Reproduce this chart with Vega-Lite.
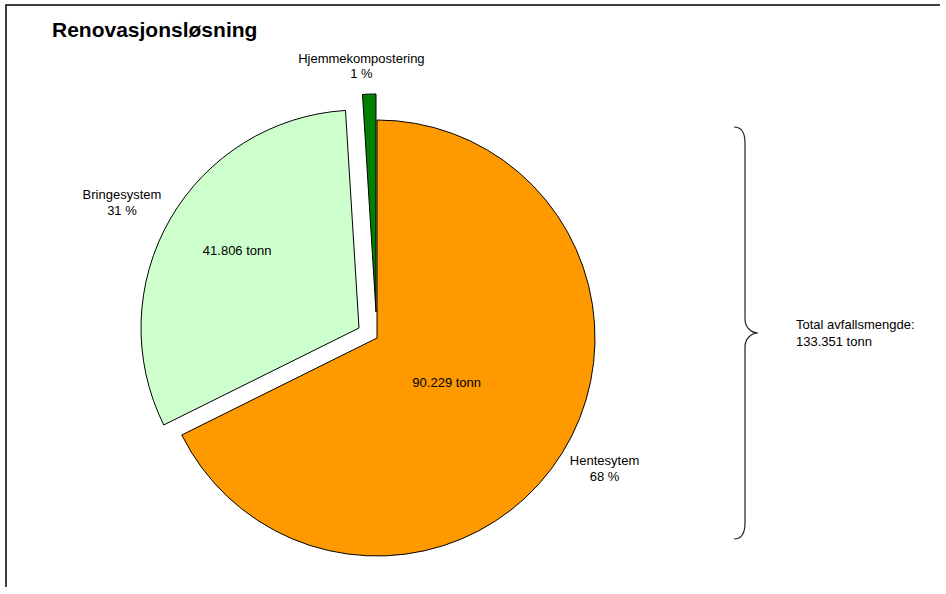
{
  "$schema": "https://vega.github.io/schema/vega-lite/v6.json",
  "autosize": "none",
  "padding": {"left": 6, "top": 5, "right": 0, "bottom": 0},
  "width": 938,
  "height": 582,
  "background": "white",
  "view": {"stroke": "#000", "strokeWidth": 1.5, "strokeDash": [934, 1524, 582, 10], "fill": "white"},
  "title": {
    "text": "Renovasjonsløsning",
    "anchor": "start",
    "frame": "group",
    "orient": "top",
    "offset": -36,
    "dx": 46,
    "font": "Liberation Sans",
    "fontSize": 21,
    "fontWeight": "bold",
    "color": "#000"
  },
  "data": {
    "values": [
      {"kategori": "Hentesystem", "tonn": 90229, "orden": 1, "etikett": "Hentesytem\n68 %", "mengde": "90.229 tonn"},
      {"kategori": "Bringesystem", "tonn": 41806, "orden": 2, "etikett": "Bringesystem\n31 %", "mengde": "41.806 tonn"},
      {"kategori": "Hjemmekompostering", "tonn": 1316, "orden": 3, "etikett": "Hjemmekompostering\n1 %", "mengde": ""}
    ]
  },
  "layer": [
    {
      "mark": {"type": "arc", "x": 371, "y": 333, "outerRadius": 218, "stroke": "#000", "strokeWidth": 1},
      "encoding": {
        "theta": {"field": "tonn", "type": "quantitative", "stack": true},
        "order": {"field": "orden", "type": "quantitative"},
        "color": {"field": "kategori", "type": "nominal", "scale": {"domain": ["Hentesystem", "Bringesystem", "Hjemmekompostering"], "range": ["#FF9900", "#CCFFCC", "#008000"]}, "legend": null},
        "opacity": {"condition": {"test": "datum.kategori === 'Hentesystem'", "value": 1}, "value": 0}
      }
    },
    {
      "mark": {"type": "arc", "x": 371, "y": 333, "xOffset": -18, "yOffset": -10, "outerRadius": 218, "stroke": "#000", "strokeWidth": 1},
      "encoding": {
        "theta": {"field": "tonn", "type": "quantitative", "stack": true},
        "order": {"field": "orden", "type": "quantitative"},
        "color": {"field": "kategori", "type": "nominal", "legend": null},
        "opacity": {"condition": {"test": "datum.kategori === 'Bringesystem'", "value": 1}, "value": 0}
      }
    },
    {
      "mark": {"type": "arc", "x": 371, "y": 333, "xOffset": -1, "yOffset": -26, "outerRadius": 218, "stroke": "#000", "strokeWidth": 1},
      "encoding": {
        "theta": {"field": "tonn", "type": "quantitative", "stack": true},
        "order": {"field": "orden", "type": "quantitative"},
        "color": {"field": "kategori", "type": "nominal", "legend": null},
        "opacity": {"condition": {"test": "datum.kategori === 'Hjemmekompostering'", "value": 1}, "value": 0}
      }
    },
    {
      "mark": {"type": "text", "x": 371, "y": 333, "radius": 263, "dx": 4, "dy": -16, "font": "Liberation Sans", "fontSize": 13, "color": "#000", "lineBreak": "\n", "lineHeight": 16, "align": "center", "baseline": "middle"},
      "encoding": {
        "theta": {"field": "tonn", "type": "quantitative", "stack": true},
        "order": {"field": "orden", "type": "quantitative"},
        "text": {"field": "etikett"},
        "opacity": {"condition": {"test": "datum.kategori === 'Hentesystem'", "value": 1}, "value": 0}
      }
    },
    {
      "mark": {"type": "text", "x": 353, "y": 323, "radius": 268, "dx": -5, "dy": 1, "font": "Liberation Sans", "fontSize": 13, "color": "#000", "lineBreak": "\n", "lineHeight": 16, "align": "center", "baseline": "middle"},
      "encoding": {
        "theta": {"field": "tonn", "type": "quantitative", "stack": true},
        "order": {"field": "orden", "type": "quantitative"},
        "text": {"field": "etikett"},
        "opacity": {"condition": {"test": "datum.kategori === 'Bringesystem'", "value": 1}, "value": 0}
      }
    },
    {
      "mark": {"type": "text", "x": 370, "y": 307, "radius": 246, "dx": -7, "dy": -7, "font": "Liberation Sans", "fontSize": 13, "color": "#000", "lineBreak": "\n", "lineHeight": 15, "align": "center", "baseline": "middle"},
      "encoding": {
        "theta": {"field": "tonn", "type": "quantitative", "stack": true},
        "order": {"field": "orden", "type": "quantitative"},
        "text": {"field": "etikett"},
        "opacity": {"condition": {"test": "datum.kategori === 'Hjemmekompostering'", "value": 1}, "value": 0}
      }
    },
    {
      "mark": {"type": "text", "x": 371, "y": 333, "radius": 82, "dy": 2, "font": "Liberation Sans", "fontSize": 13, "color": "#000", "align": "center", "baseline": "middle"},
      "encoding": {
        "theta": {"field": "tonn", "type": "quantitative", "stack": true},
        "order": {"field": "orden", "type": "quantitative"},
        "text": {"field": "mengde"},
        "opacity": {"condition": {"test": "datum.kategori === 'Hentesystem'", "value": 1}, "value": 0}
      }
    },
    {
      "mark": {"type": "text", "x": 353, "y": 323, "radius": 143, "dx": 2, "dy": -5, "font": "Liberation Sans", "fontSize": 13, "color": "#000", "align": "center", "baseline": "middle"},
      "encoding": {
        "theta": {"field": "tonn", "type": "quantitative", "stack": true},
        "order": {"field": "orden", "type": "quantitative"},
        "text": {"field": "mengde"},
        "opacity": {"condition": {"test": "datum.kategori === 'Bringesystem'", "value": 1}, "value": 0}
      }
    },
    {
      "data": {"values": [{"form": "klamme"}]},
      "mark": {"type": "point", "x": 739, "y": 328, "shape": "M -0.0534 -1 C -0.0243 -1 0 -0.9806 0 -0.9223 L 0 -0.068 C 0 -0.0291 0.0291 0 0.0631 0 C 0.0291 0 0 0.0291 0 0.068 L 0 0.9223 C 0 0.9806 -0.0243 1 -0.0534 1", "size": 169744, "filled": false, "stroke": "#222", "strokeWidth": 1.2, "opacity": 1},
      "encoding": {}
    },
    {
      "data": {"values": [{"tekst": "Total avfallsmengde:\n133.351 tonn"}]},
      "mark": {"type": "text", "x": 790, "y": 320, "font": "Liberation Sans", "fontSize": 13, "color": "#000", "lineBreak": "\n", "lineHeight": 16.5, "align": "left", "baseline": "middle"},
      "encoding": {"text": {"field": "tekst"}}
    }
  ]
}
